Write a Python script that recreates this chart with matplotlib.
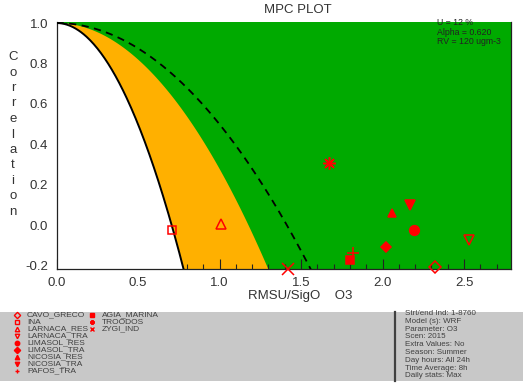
import numpy as np
import matplotlib
matplotlib.use("Agg")
import matplotlib.pyplot as plt
from matplotlib.patches import Rectangle
from matplotlib.ticker import MultipleLocator

plt.rcParams['font.family'] = ['Liberation Sans', 'DejaVu Sans']

# Stations, in legend order
stations = ["CAVO_GRECO", "INA", "LARNACA_RES", "LARNACA_TRA", "LIMASOL_RES",
            "LIMASOL_TRA", "NICOSIA_RES", "NICOSIA_TRA", "PAFOS_TRA",
            "AGIA_MARINA", "TROODOS", "ZYGI_IND"]
markers = ["D", "s", "^", "v", "o", "D", "^", "v", "+", "s", (8, 2, 0), "x"]
filled = [False, False, False, False, True, True, True, True, True, True, True, True]
msizes = [6, 6, 7, 7, 7, 5, 6, 7, 9, 6, 9, 8]
rmsu = [2.32, 0.71, 1.01, 2.53, 2.19, 2.02, 2.06, 2.17, 1.82, 1.80, 1.67, 1.42]
corr = [-0.205, -0.02, 0.005, -0.074, -0.02, -0.107, 0.064, 0.10, -0.137, -0.171, 0.31, -0.215]

# MPC boundary coefficients: R = 1 - k * x^2
k_limit = 2.0     # black curve
k_orange = 0.72   # orange / green border
k_dash = 0.5      # dashed line

info_lines = ["Strt/end Ind: 1-8760", "Model (s): WRF", "Parameter: O3", "Scen: 2015",
              "Extra Values: No", "Season: Summer", "Day hours: All 24h",
              "Time Average: 8h", "Daily stats: Max"]
corner_lines = ["U = 12 %", "Alpha = 0.620", "RV = 120 ugm-3"]

GREEN = "#00aa00"
ORANGE = "#ffb000"
RED = "#ff0000"
TXT = "#333333"

W, H = 523, 383
fig = plt.figure(figsize=(W / 100, H / 100), dpi=100)

ax = fig.add_axes([56.5 / W, 1 - 269 / H, (510.5 - 56.5) / W, (269 - 22) / H])
ax.set_facecolor(GREEN)
xmax = 2.785
ylo, yhi = -0.215, 1.005

xs = np.linspace(0, xmax, 500)
ax.fill_between(xs, -0.3, 1 - k_orange * xs ** 2, color=ORANGE, lw=0, zorder=1)
ax.fill_between(xs, -0.3, 1 - k_limit * xs ** 2, color="white", lw=0, zorder=2)
ax.plot(xs, 1 - k_limit * xs ** 2, color="black", lw=1.4, zorder=3)
ax.plot(xs, 1 - k_dash * xs ** 2, color="black", lw=1.3, ls=(0, (4, 3)), zorder=3)

for i in range(len(stations)):
    ax.plot(rmsu[i], corr[i], marker=markers[i], ms=msizes[i], ls="none",
            mfc=RED if filled[i] else "none", mec=RED, mew=1.1,
            zorder=5, clip_on=False)

ax.xaxis.set_major_locator(MultipleLocator(0.5))
ax.xaxis.set_minor_locator(MultipleLocator(0.1))
ax.yaxis.set_major_locator(MultipleLocator(0.2))
ax.yaxis.set_minor_locator(MultipleLocator(0.05))
ax.tick_params(which="both", direction="in", top=False, right=False,
               labelsize=9.5, colors="#222222", labelcolor=TXT, pad=6)
ax.tick_params(which="major", length=7, width=0.8)
ax.tick_params(which="minor", length=3.5, width=0.8)
ax.set_xlim(0, xmax)
ax.set_ylim(ylo, yhi)
ax.set_yticks(ax.get_yticks())
ax.set_yticklabels(["%.1f" % v for v in ax.get_yticks()])
ax.set_xticks(ax.get_xticks())
ax.set_xticklabels(["%.1f" % v for v in ax.get_xticks()])
ax.set_xlim(0, xmax)
ax.set_ylim(ylo, yhi)
for s in ["left", "bottom", "right"]:
    ax.spines[s].set_color("#222222")
    ax.spines[s].set_linewidth(0.9)
ax.spines["top"].set_visible(False)

fig.text(298 / W, 1 - 10 / H, "MPC PLOT", ha="center", va="center", fontsize=9.5, color=TXT)
fig.text(300 / W, 1 - 296 / H, "RMSU/SigO    O3", ha="center", va="center", fontsize=9.5, color=TXT)

# vertical stacked y label
for j, ch in enumerate("Correlation"):
    fig.text(13 / W, 1 - (57 + j * 15.5) / H, ch, ha="center", va="center",
             fontsize=9.5, color=TXT)

for j, line in enumerate(corner_lines):
    fig.text(437 / W, 1 - (22.5 + j * 9.6) / H, line, ha="left", va="center",
             fontsize=6.3, color="#222222")

# grey panel with manual legend
lax = fig.add_axes([0, 0, 1, 1], zorder=5)
lax.set_xlim(0, W)
lax.set_ylim(H, 0)
lax.axis("off")
lax.add_patch(Rectangle((0, 312), W, 69, facecolor="#c8c8c8", edgecolor="none", zorder=0))
lax.plot([395, 395], [312, 381], color="#404040", lw=1.6, zorder=1)
for i in range(len(stations)):
    col, row = (0, i) if i < 9 else (1, i - 9)
    mx = 17 + col * 75
    my = 315 + row * 7
    lax.plot(mx, my, marker=markers[i], ms=3.2, ls="none",
             mfc=RED if filled[i] else "none", mec=RED, mew=1.0, zorder=2)
    lax.text(mx + 10, my, stations[i], ha="left", va="center", fontsize=6.0,
             color="#404040", zorder=3)

for j, line in enumerate(info_lines):
    lax.text(405, 313.5 + j * 7.8, line, ha="left", va="center", fontsize=5.8,
             color="#404040", zorder=3)

fig.savefig("out.png", dpi=100)
